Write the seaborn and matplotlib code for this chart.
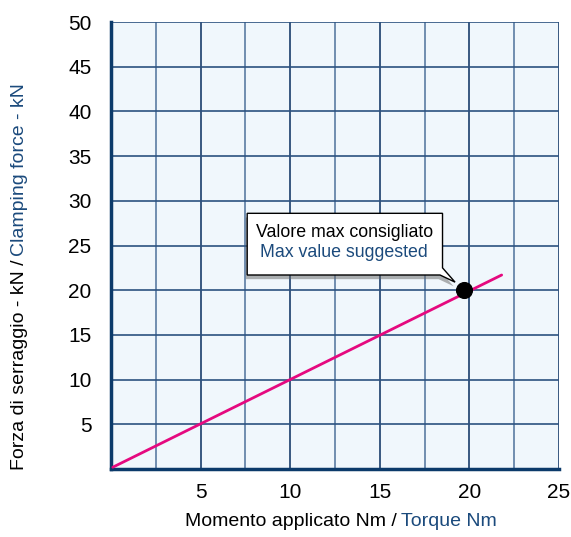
import matplotlib
matplotlib.use('Agg')
import matplotlib.pyplot as plt
import matplotlib.patheffects as pe
from matplotlib.patches import Polygon
from matplotlib.ticker import MultipleLocator
import seaborn as sns
import pandas as pd

# data
torque = [0.1, 21.8]          # Nm
clamping = [0.2, 21.7]        # kN
max_torque = [19.7]
max_clamp = [20.0]
x_ticks = [5, 10, 15, 20, 25]
y_ticks = [5, 10, 15, 20, 25, 30, 35, 40, 45, 50]

navy = '#0b3a6a'
blue_text = '#1b4a7c'
pink = '#e5097f'

sns.set_style('white')
plt.rcParams['font.family'] = ['Liberation Sans', 'DejaVu Sans']

fig = plt.figure(figsize=(5.71, 5.37), dpi=100)
ax = fig.add_axes([111 / 571, 68 / 537, 448 / 571, 447 / 537])
ax.set_facecolor('#f0f7fc')

df = pd.DataFrame({'torque': torque, 'clamping': clamping})
sns.lineplot(data=df, x='torque', y='clamping', color=pink, lw=2, ax=ax, zorder=4)
sns.scatterplot(x=max_torque, y=max_clamp, color='black', s=130, edgecolor='black',
                ax=ax, zorder=6, legend=False)

ax.set_xlim(0, 25)
ax.set_ylim(0, 50)
ax.set_xticks(x_ticks)
ax.xaxis.set_minor_locator(MultipleLocator(2.5))
ax.set_yticks(y_ticks)
ax.grid(True, which='major', axis='x', color='#1a3d6b', lw=1.2)
ax.grid(True, which='minor', axis='x', color='#5a7ca2', lw=1.2)
ax.grid(True, which='major', axis='y', color='#2c5280', lw=1.2)
ax.set_axisbelow(True)
ax.tick_params(axis='both', which='both', direction='out', length=6, width=1.2,
               color=navy, labelcolor='black', labelsize=15)
ax.tick_params(axis='x', pad=4)
ax.tick_params(axis='y', pad=8)
for s in ['top', 'right']:
    ax.spines[s].set_visible(False)
for s in ['left', 'bottom']:
    ax.spines[s].set_color(navy)
    ax.spines[s].set_linewidth(2.5)
ax.set_xlabel('')
ax.set_ylabel('')

# callout box
call = Polygon([(7.6, 21.7), (7.6, 28.6), (18.5, 28.6), (18.5, 22.5),
                (19.2, 20.9), (18.36, 21.7)], closed=True,
               facecolor='white', edgecolor='black', lw=1, zorder=5,
               path_effects=[pe.SimplePatchShadow(offset=(-1, -3), shadow_rgbFace='#666666', alpha=0.5),
                             pe.Normal()])
ax.add_patch(call)
ax.text(13.06, 26.5, 'Valore max consigliato', ha='center', va='center',
        fontsize=12.8, color='black', zorder=7)
ax.text(13.0, 24.2, 'Max value suggested', ha='center', va='center',
        fontsize=12.8, color=blue_text, zorder=7)

# two-colour axis labels
fig.canvas.draw()
r = fig.canvas.get_renderer()
t1 = fig.text(185 / 571, (537 - 522) / 537, 'Momento applicato Nm /', fontsize=14,
              color='black', ha='left', va='center')
e1 = t1.get_window_extent(r)
fig.text((e1.x1 + 4) / 571, (537 - 522) / 537, 'Torque Nm', fontsize=14,
         color=blue_text, ha='left', va='center')

t2 = fig.text(20 / 571, (537 - 470) / 537, 'Forza di serraggio - kN /', fontsize=14,
              color='black', rotation=90, ha='center', va='bottom')
e2 = t2.get_window_extent(r)
fig.text(20 / 571, (e2.y1 + 4) / 537, 'Clamping force - kN', fontsize=14,
         color=blue_text, rotation=90, ha='center', va='bottom')

fig.savefig('out.png', dpi=100)
